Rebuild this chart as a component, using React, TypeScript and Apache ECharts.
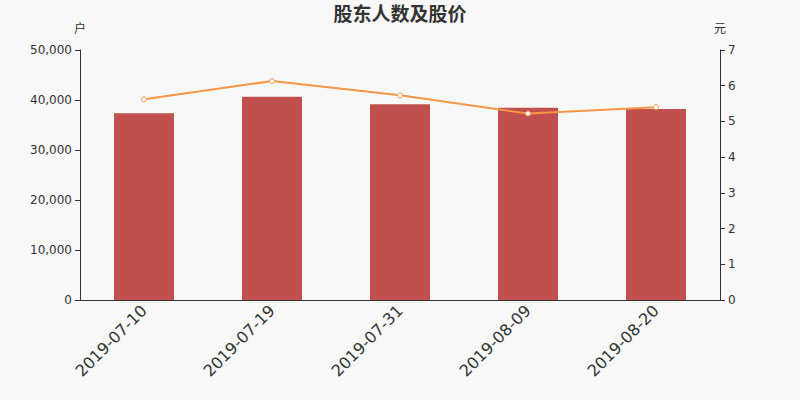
import React, { useEffect, useRef } from "react";
import * as echarts from "echarts";

const categories = ["2019-07-10", "2019-07-19", "2019-07-31", "2019-08-09", "2019-08-20"];
const holders = [37330, 40670, 39130, 38470, 38200];
const prices = [5.62, 6.13, 5.73, 5.22, 5.4];

export default function App() {
  const ref = useRef<HTMLDivElement>(null);
  useEffect(() => {
    document.body.style.margin = "0";
    const chart = echarts.init(ref.current!, null, { renderer: "svg" });
    const font = "DejaVu Sans";
    chart.setOption({
      animation: false,
      backgroundColor: "#f8f8f8",
      textStyle: { fontFamily: font },
      title: {
        text: "股东人数及股价",
        left: "center",
        top: -2,
        textStyle: { fontSize: 19, fontWeight: "bold", color: "#333", fontFamily: "Noto Sans CJK SC" },
      },
      grid: { left: 80, right: 80, top: 50, bottom: 100 },
      xAxis: {
        type: "category",
        data: categories,
        axisLine: { lineStyle: { color: "#333" } },
        axisLabel: { rotate: 45, fontSize: 16, color: "#333", interval: 0, fontFamily: font },
      },
      yAxis: [
        {
          type: "value",
          name: "户",
          min: 0,
          max: 50000,
          interval: 10000,
          nameTextStyle: { color: "#333", fontFamily: "Noto Sans CJK SC" },
          nameGap: 17,
          splitLine: { show: false },
          axisLine: { show: true, lineStyle: { color: "#333" } },
          axisTick: { show: true },
          axisLabel: { color: "#333", fontSize: 12, fontFamily: font },
        },
        {
          type: "value",
          name: "元",
          min: 0,
          max: 7,
          interval: 1,
          nameTextStyle: { color: "#333", fontFamily: "Noto Sans CJK SC" },
          nameGap: 17,
          splitLine: { show: false },
          axisLine: { show: true, lineStyle: { color: "#333" } },
          axisTick: { show: true },
          axisLabel: { color: "#333", fontSize: 12, fontFamily: font },
        },
      ],
      series: [
        {
          type: "bar",
          data: holders,
          barWidth: 60,
          itemStyle: { color: "#c0504d" },
        },
        {
          type: "line",
          yAxisIndex: 1,
          data: prices,
          symbol: "circle",
          symbolSize: 5,
          lineStyle: { color: "#f79646", width: 2 },
          itemStyle: { color: "#fff", borderColor: "#f79646", borderWidth: 1 },
        },
      ],
    });
    return () => chart.dispose();
  }, []);
  return <div ref={ref} style={{ width: 800, height: 400 }} />;
}
